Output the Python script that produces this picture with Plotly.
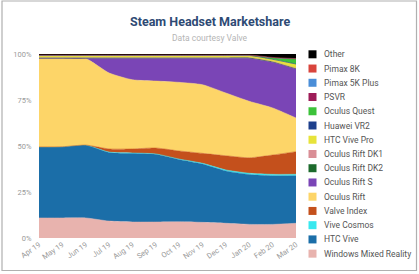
import plotly.graph_objects as go

months = ["Apr 19", "May 19", "Jun 19", "Jul 19", "Aug 19", "Sep 19",
          "Oct 19", "Nov 19", "Dec 19", "Jan 20", "Feb 20", "Mar 20"]

wmr      = [10.9, 10.9, 10.9, 9.2, 8.7, 8.7, 8.8, 8.5, 8.0, 7.4, 7.4, 8.0]
htc_vive = [38.6, 38.7, 39.6, 37.3, 37.3, 36.8, 33.9, 31.7, 28.4, 27.1, 26.4, 25.8]
cosmos   = [0, 0, 0, 0.2, 0.2, 0.2, 0.2, 0.4, 0.6, 0.7, 0.8, 0.8]
index    = [0, 0, 0, 1.7, 2.2, 3.2, 4.4, 5.4, 7.7, 8.4, 10.5, 12.3]
rift     = [48.1, 48.0, 47.0, 41.3, 37.6, 36.4, 37.3, 37.3, 34.1, 30.7, 25.6, 18.3]
rift_s   = [0, 0, 0.1, 7.9, 11.6, 12.3, 13.0, 14.3, 18.8, 23.3, 24.8, 26.6]
dk2      = [0.5, 0.5, 0.5, 0.5, 0.5, 0.5, 0.5, 0.5, 0.5, 0.5, 0.4, 0.4]
dk1      = [0.05] * 12
vive_pro = [1.0, 1.0, 1.0, 1.0, 1.0, 1.0, 1.0, 1.0, 1.0, 1.0, 1.1, 2.2]
huawei   = [0.05] * 12
quest    = [0, 0, 0, 0, 0, 0, 0, 0, 0, 0, 0.8, 2.7]
psvr     = [0.1] * 12
pimax5k  = [0.1] * 12
pimax8k  = [0.05] * 12
other    = [0.55, 0.55, 0.55, 0.55, 0.55, 0.55, 0.55, 0.55, 0.55, 0.55, 1.85, 2.5]

# bottom to top
series = [
    ("Windows Mixed Reality", wmr, "#e8b3ae"),
    ("HTC Vive", htc_vive, "#1b6ea8"),
    ("Vive Cosmos", cosmos, "#38e8ef"),
    ("Valve Index", index, "#c4501c"),
    ("Oculus Rift", rift, "#fdd568"),
    ("Oculus Rift S", rift_s, "#7a45b6"),
    ("Oculus Rift DK2", dk2, "#1c6a2c"),
    ("Oculus Rift DK1", dk1, "#d98e96"),
    ("HTC Vive Pro", vive_pro, "#e7e33a"),
    ("Huawei VR2", huawei, "#1d3f8c"),
    ("Oculus Quest", quest, "#3cc23a"),
    ("PSVR", psvr, "#9e1c58"),
    ("Pimax 5K Plus", pimax5k, "#4a8ed8"),
    ("Pimax 8K", pimax8k, "#d9443c"),
    ("Other", other, "#000000"),
]

fig = go.Figure()
for name, vals, col in series:
    fig.add_trace(go.Scatter(
        x=months, y=vals, name=name, mode="lines",
        stackgroup="one", groupnorm="percent",
        line=dict(width=0.5, color=col, shape="spline", smoothing=0.6),
        fillcolor=col, showlegend=False, hoverinfo="skip",
    ))

W, H = 419, 274
L, R, T, B = 39, 123, 54, 36
pw, ph = W - L - R, H - T - B

def px(x):
    return (x - L) / pw

def py(y):
    return (H - B - y) / ph

shapes = []
annotations = []
# manual legend, top to bottom
for i, (name, vals, col) in enumerate(reversed(series)):
    cy = 54.3 + i * 14.24
    shapes.append(dict(type="rect", xref="paper", yref="paper",
                       x0=px(308.5), x1=px(316.5), y0=py(cy + 4), y1=py(cy - 4),
                       fillcolor=col, line=dict(width=0), layer="above"))
    annotations.append(dict(text=name, xref="paper", yref="paper",
                            x=px(322), y=py(cy), xanchor="left", yanchor="middle",
                            showarrow=False, font=dict(size=8.5, color="#555555")))

# frame around the figure
shapes.append(dict(type="rect", xref="paper", yref="paper",
                   x0=px(2), x1=px(416.5), y0=py(270.5), y1=py(1),
                   line=dict(color="#b0b0b0", width=1.2), layer="above"))

annotations.append(dict(text="<b>Steam Headset Marketshare</b>", xref="paper", yref="paper",
                        x=px(209.5), y=py(21.5), xanchor="center", yanchor="middle",
                        showarrow=False, font=dict(size=12.5, color="#2e4a74")))
annotations.append(dict(text="Data courtesy Valve", xref="paper", yref="paper",
                        x=px(209.5), y=py(37.5), xanchor="center", yanchor="middle",
                        showarrow=False, font=dict(size=8.5, color="#b5b5b5")))

fig.update_layout(
    width=W, height=H,
    margin=dict(l=L, r=R, t=T, b=B, pad=0),
    paper_bgcolor="white", plot_bgcolor="white",
    font=dict(family="Roboto, sans-serif", size=8, color="#999999"),
    showlegend=False,
    shapes=shapes, annotations=annotations,
    xaxis=dict(type="category", range=[0, 11], showgrid=False, zeroline=False,
               tickangle=-35, ticks="", tickfont=dict(size=7.5, color="#9a9a9a"),
               showline=False, fixedrange=True),
    yaxis=dict(range=[0, 100], tickvals=[0, 25, 50, 75, 100],
               ticktext=["0%", "25%", "50%", "75%", "100%"], showgrid=False,
               zeroline=False, ticks="outside", ticklen=5, tickcolor="rgba(0,0,0,0)",
               tickfont=dict(size=7.5, color="#9a9a9a"), fixedrange=True),
)

fig.write_html("out.html", config={"displayModeBar": False})
